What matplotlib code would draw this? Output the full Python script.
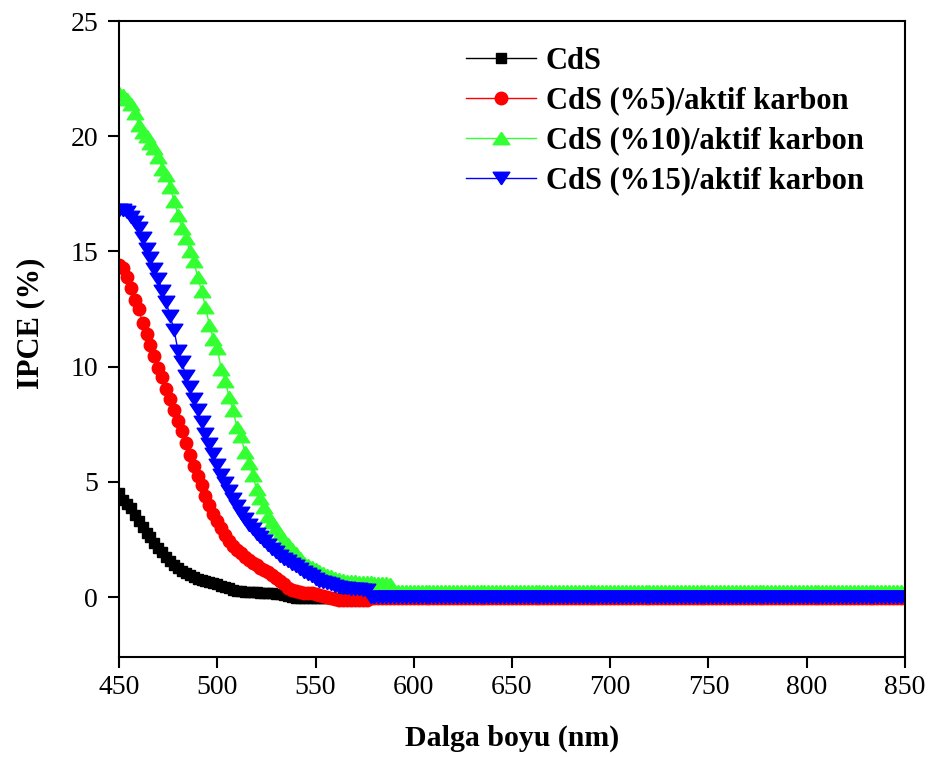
import numpy as np
import matplotlib
matplotlib.use('Agg')
import matplotlib.pyplot as plt

plt.rcParams['font.family'] = ['Liberation Serif', 'DejaVu Serif']

# wavelength grid (nm), one reading every 2 nm
wavelength = np.arange(450, 852, 2)

labels = ['CdS', 'CdS (%5)/aktif karbon', 'CdS (%10)/aktif karbon', 'CdS (%15)/aktif karbon']

# IPCE (%) for each sample, one row per 20 nm
ipce_cds = [
    4.5, 4.2, 4.05, 3.85, 3.55, 3.3, 3.05, 2.8, 2.6, 2.35,          # 450
    2.15, 1.95, 1.75, 1.55, 1.4, 1.25, 1.12, 1.03, 0.95, 0.87,      # 470
    0.8, 0.75, 0.7, 0.65, 0.6, 0.55, 0.5, 0.45, 0.38, 0.32,         # 490
    0.28, 0.25, 0.23, 0.22, 0.22, 0.21, 0.2, 0.2, 0.2, 0.18,        # 510
    0.15, 0.12, 0.08, 0.04, 0.0, -0.02, -0.03, -0.03, -0.03, -0.03,  # 530
    -0.03, -0.03, -0.03, -0.03, -0.03, -0.03, -0.03, -0.03, -0.03, -0.03,  # 550
    -0.03, -0.03, -0.03, -0.03, -0.03, -0.03, -0.03, -0.03, -0.03, -0.03,  # 570
    -0.03, -0.03, -0.03, -0.03, -0.03, -0.03, -0.03, -0.03, -0.03, -0.03,  # 590
    -0.03, -0.03, -0.03, -0.03, -0.03, -0.03, -0.03, -0.03, -0.03, -0.03,  # 610
    -0.03, -0.03, -0.03, -0.03, -0.03, -0.03, -0.03, -0.03, -0.03, -0.03,  # 630
    -0.03, -0.03, -0.03, -0.03, -0.03, -0.03, -0.03, -0.03, -0.03, -0.03,  # 650
    -0.03, -0.03, -0.03, -0.03, -0.03, -0.03, -0.03, -0.03, -0.03, -0.03,  # 670
    -0.03, -0.03, -0.03, -0.03, -0.03, -0.03, -0.03, -0.03, -0.03, -0.03,  # 690
    -0.03, -0.03, -0.03, -0.03, -0.03, -0.03, -0.03, -0.03, -0.03, -0.03,  # 710
    -0.03, -0.03, -0.03, -0.03, -0.03, -0.03, -0.03, -0.03, -0.03, -0.03,  # 730
    -0.03, -0.03, -0.03, -0.03, -0.03, -0.03, -0.03, -0.03, -0.03, -0.03,  # 750
    -0.03, -0.03, -0.03, -0.03, -0.03, -0.03, -0.03, -0.03, -0.03, -0.03,  # 770
    -0.03, -0.03, -0.03, -0.03, -0.03, -0.03, -0.03, -0.03, -0.03, -0.03,  # 790
    -0.03, -0.03, -0.03, -0.03, -0.03, -0.03, -0.03, -0.03, -0.03, -0.03,  # 810
    -0.03, -0.03, -0.03, -0.03, -0.03, -0.03, -0.03, -0.03, -0.03, -0.03, -0.03,  # 830-850
]

ipce_5 = [
    14.4, 14.3, 13.9, 13.4, 12.9, 12.5, 11.9, 11.4, 10.95, 10.45,   # 450
    9.95, 9.55, 9.05, 8.6, 8.1, 7.65, 7.2, 6.7, 6.15, 5.7,          # 470
    5.25, 4.85, 4.4, 4.0, 3.6, 3.3, 3.0, 2.7, 2.45, 2.2,            # 490
    2.05, 1.9, 1.75, 1.6, 1.48, 1.38, 1.28, 1.18, 1.07, 0.97,       # 510
    0.85, 0.7, 0.55, 0.4, 0.3, 0.25, 0.22, 0.2, 0.2, 0.18,          # 530
    0.15, 0.1, 0.05, 0.0, -0.05, -0.1, -0.12, -0.12, -0.12, -0.12,  # 550
    -0.12, -0.12, -0.12, -0.12, -0.05, -0.05, -0.05, -0.05, -0.05, -0.05,  # 570
    -0.05, -0.05, -0.05, -0.05, -0.05, -0.05, -0.05, -0.05, -0.05, -0.05,  # 590
    -0.05, -0.05, -0.05, -0.05, -0.05, -0.05, -0.05, -0.05, -0.05, -0.05,  # 610
    -0.05, -0.05, -0.05, -0.05, -0.05, -0.05, -0.05, -0.05, -0.05, -0.05,  # 630
    -0.05, -0.05, -0.05, -0.05, -0.05, -0.05, -0.05, -0.05, -0.05, -0.05,  # 650
    -0.05, -0.05, -0.05, -0.05, -0.05, -0.05, -0.05, -0.05, -0.05, -0.05,  # 670
    -0.05, -0.05, -0.05, -0.05, -0.05, -0.05, -0.05, -0.05, -0.05, -0.05,  # 690
    -0.05, -0.05, -0.05, -0.05, -0.05, -0.05, -0.05, -0.05, -0.05, -0.05,  # 710
    -0.05, -0.05, -0.05, -0.05, -0.05, -0.05, -0.05, -0.05, -0.05, -0.05,  # 730
    -0.05, -0.05, -0.05, -0.05, -0.05, -0.05, -0.05, -0.05, -0.05, -0.05,  # 750
    -0.05, -0.05, -0.05, -0.05, -0.05, -0.05, -0.05, -0.05, -0.05, -0.05,  # 770
    -0.05, -0.05, -0.05, -0.05, -0.05, -0.05, -0.05, -0.05, -0.05, -0.05,  # 790
    -0.05, -0.05, -0.05, -0.05, -0.05, -0.05, -0.05, -0.05, -0.05, -0.05,  # 810
    -0.05, -0.05, -0.05, -0.05, -0.05, -0.05, -0.05, -0.05, -0.05, -0.05, -0.05,  # 830-850
]

ipce_10 = [
    21.9, 21.8, 21.6, 21.4, 21.0, 20.5, 20.2, 20.0, 19.7, 19.5,     # 450
    19.1, 18.6, 18.3, 17.8, 17.2, 16.6, 16.0, 15.6, 15.0, 14.6,     # 470
    13.9, 13.3, 12.6, 11.8, 11.2, 10.8, 9.9, 9.4, 8.7, 8.1,         # 490
    7.4, 7.0, 6.3, 5.8, 5.3, 4.7, 4.3, 3.9, 3.5, 3.25,              # 510
    3.0, 2.75, 2.5, 2.3, 2.1, 1.9, 1.7, 1.5, 1.4, 1.3,              # 530
    1.2, 1.15, 1.05, 0.95, 0.9, 0.85, 0.8, 0.75, 0.72, 0.7,         # 550
    0.68, 0.66, 0.65, 0.65, 0.64, 0.63, 0.62, 0.62, 0.6, 0.55,      # 570
    0.25, 0.25, 0.25, 0.25, 0.25, 0.25, 0.25, 0.25, 0.25, 0.25,     # 590
    0.25, 0.25, 0.25, 0.25, 0.25, 0.25, 0.25, 0.25, 0.25, 0.25,     # 610
    0.25, 0.25, 0.25, 0.25, 0.25, 0.25, 0.25, 0.25, 0.25, 0.25,     # 630
    0.25, 0.25, 0.25, 0.25, 0.25, 0.25, 0.25, 0.25, 0.25, 0.25,     # 650
    0.25, 0.25, 0.25, 0.25, 0.25, 0.25, 0.25, 0.25, 0.25, 0.25,     # 670
    0.25, 0.25, 0.25, 0.25, 0.25, 0.25, 0.25, 0.25, 0.25, 0.25,     # 690
    0.25, 0.25, 0.25, 0.25, 0.25, 0.25, 0.25, 0.25, 0.25, 0.25,     # 710
    0.25, 0.25, 0.25, 0.25, 0.25, 0.25, 0.25, 0.25, 0.25, 0.25,     # 730
    0.25, 0.25, 0.25, 0.25, 0.25, 0.25, 0.25, 0.25, 0.25, 0.25,     # 750
    0.25, 0.25, 0.25, 0.25, 0.25, 0.25, 0.25, 0.25, 0.25, 0.25,     # 770
    0.25, 0.25, 0.25, 0.25, 0.25, 0.25, 0.25, 0.25, 0.25, 0.25,     # 790
    0.25, 0.25, 0.25, 0.25, 0.25, 0.25, 0.25, 0.25, 0.25, 0.25,     # 810
    0.25, 0.25, 0.25, 0.25, 0.25, 0.25, 0.25, 0.25, 0.25, 0.25, 0.25,  # 830-850
]

ipce_15 = [
    16.8, 16.8, 16.7, 16.5, 16.3, 16.0, 15.6, 15.1, 14.7, 14.25,    # 450
    13.8, 13.3, 12.8, 12.2, 11.6, 10.7, 10.2, 9.6, 9.1, 8.6,        # 470
    8.1, 7.6, 7.1, 6.65, 6.2, 5.75, 5.3, 4.95, 4.6, 4.25,           # 490
    3.95, 3.65, 3.4, 3.15, 2.95, 2.75, 2.6, 2.45, 2.25, 2.1,        # 510
    1.95, 1.8, 1.65, 1.55, 1.45, 1.35, 1.2, 1.1, 1.0, 0.9,          # 530
    0.8, 0.7, 0.65, 0.6, 0.55, 0.5, 0.45, 0.4, 0.38, 0.36,          # 550
    0.35, 0.35, 0.33, 0.3, 0.0, 0.0, 0.0, 0.0, 0.0, 0.0,            # 570
    0.0, 0.0, 0.0, 0.0, 0.0, 0.0, 0.0, 0.0, 0.0, 0.0,               # 590
    0.0, 0.0, 0.0, 0.0, 0.0, 0.0, 0.0, 0.0, 0.0, 0.0,               # 610
    0.0, 0.0, 0.0, 0.0, 0.0, 0.0, 0.0, 0.0, 0.0, 0.0,               # 630
    0.0, 0.0, 0.0, 0.0, 0.0, 0.0, 0.0, 0.0, 0.0, 0.0,               # 650
    0.0, 0.0, 0.0, 0.0, 0.0, 0.0, 0.0, 0.0, 0.0, 0.0,               # 670
    0.0, 0.0, 0.0, 0.0, 0.0, 0.0, 0.0, 0.0, 0.0, 0.0,               # 690
    0.0, 0.0, 0.0, 0.0, 0.0, 0.0, 0.0, 0.0, 0.0, 0.0,               # 710
    0.0, 0.0, 0.0, 0.0, 0.0, 0.0, 0.0, 0.0, 0.0, 0.0,               # 730
    0.0, 0.0, 0.0, 0.0, 0.0, 0.0, 0.0, 0.0, 0.0, 0.0,               # 750
    0.0, 0.0, 0.0, 0.0, 0.0, 0.0, 0.0, 0.0, 0.0, 0.0,               # 770
    0.0, 0.0, 0.0, 0.0, 0.0, 0.0, 0.0, 0.0, 0.0, 0.0,               # 790
    0.0, 0.0, 0.0, 0.0, 0.0, 0.0, 0.0, 0.0, 0.0, 0.0,               # 810
    0.0, 0.0, 0.0, 0.0, 0.0, 0.0, 0.0, 0.0, 0.0, 0.0, 0.0,          # 830-850
]

# flattened triangles, wider than tall
tri_up = [(0, 0.75), (-1, -0.75), (1, -0.75), (0, 0.75)]
tri_down = [(0, -0.75), (-1, 0.75), (1, 0.75), (0, -0.75)]

fig = plt.figure(figsize=(9.3, 7.58), dpi=100)
ax = fig.add_axes([0.128, 0.1332, 0.845, 0.839])

ax.plot(wavelength, ipce_cds, color='black', lw=1, marker='s', ms=7, label=labels[0])
ax.plot(wavelength, ipce_5, color='#ff0000', lw=1, marker='o', ms=9, label=labels[1])
ax.plot(wavelength, ipce_10, color='#33ff33', lw=1, marker=tri_up, ms=12, label=labels[2])
ax.plot(wavelength, ipce_15, color='#0000ff', lw=1, marker=tri_down, ms=12, label=labels[3])

ax.set_xlim(450, 850)
ax.set_ylim(-2.6, 25)
ax.set_xticks(np.arange(450, 851, 50))
ax.set_yticks(np.arange(0, 26, 5))

for side in ax.spines.values():
    side.set_linewidth(1.5)
ax.tick_params(direction='out', length=8, width=1.5, labelsize=20)
ax.tick_params(axis='x', pad=5)
ax.tick_params(axis='y', pad=7)

ax.set_xlabel('Dalga boyu (nm)', fontsize=21.5, fontweight='bold', labelpad=18)
ax.set_ylabel('IPCE (%)', fontsize=22, fontweight='bold')
ax.yaxis.set_label_coords(-0.094, 0.525)

ax.legend(loc='upper left', bbox_to_anchor=(0.406, 1.003), frameon=False,
          numpoints=1, handlelength=2.3, handletextpad=0.33, labelspacing=0.36,
          prop={'family': 'Liberation Serif', 'weight': 'bold', 'size': 22})

fig.savefig('out.png', dpi=100)
